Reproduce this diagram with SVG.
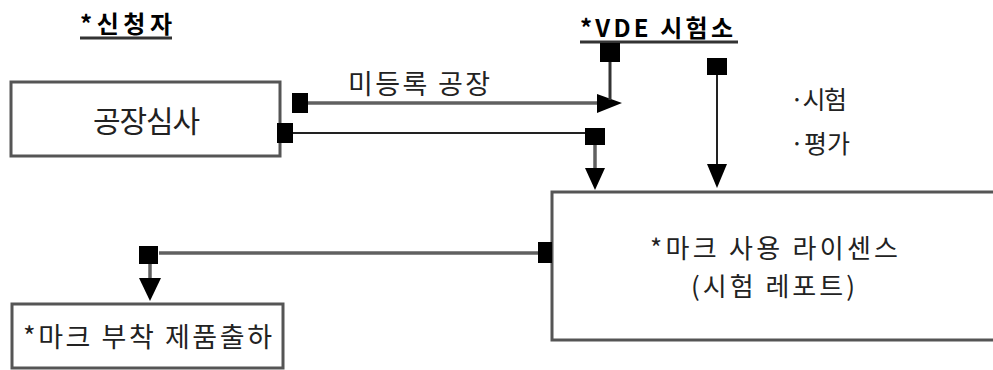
<svg xmlns="http://www.w3.org/2000/svg" width="993" height="370" viewBox="0 0 993 370">
<style>
.t{font-family:"Noto Sans CJK KR","Noto Sans",sans-serif;fill:#222;font-size:22px}
.b{font-weight:bold;fill:#000}
.box{fill:#fff;stroke:#555;stroke-width:3}
.ln{fill:none;stroke:#606060;stroke-width:3.5}
.thin{fill:none;stroke:#222;stroke-width:2}
.sq{fill:#000}
.ah{fill:#000}
.ul{stroke:#333;stroke-width:3}
</style>
<rect width="993" height="370" fill="#fff"/>
<g id="title-applicant">
<text class="t b" x="80" y="33" textLength="92" lengthAdjust="spacing" style="font-size:24px">*신청자</text>
<line class="ul" x1="80" y1="38" x2="172" y2="38"/>
</g>
<g id="title-vde">
<text class="t b" x="580" y="37" textLength="153" lengthAdjust="spacing" style="font-size:24px">*VDE 시험소</text>
<line class="ul" x1="580" y1="42" x2="738" y2="42"/>
</g>
<g id="node-factory-audit">
<rect class="box" x="11" y="82" width="269" height="74"/>
<text class="t" x="93" y="132" textLength="107" lengthAdjust="spacing" style="font-size:30px">공장심사</text>
</g>
<g id="node-license">
<rect class="box" x="552" y="192" width="460" height="148"/>
<text class="t" x="650" y="258" textLength="248" lengthAdjust="spacing" style="font-size:26px">*마크 사용 라이센스</text>
<text class="t" x="691" y="296" textLength="164" lengthAdjust="spacing" style="font-size:26px">(시험 레포트)</text>
</g>
<g id="node-shipment">
<rect class="box" x="12" y="304" width="271" height="64"/>
<text class="t" x="23" y="347" textLength="249" lengthAdjust="spacing" style="font-size:27px">*마크 부착 제품출하</text>
</g>
<g id="label-test-eval">
<text class="t" x="790" y="109" textLength="57" lengthAdjust="spacing" style="font-size:25px">·시험</text>
<text class="t" x="790" y="153" textLength="60" lengthAdjust="spacing" style="font-size:25px">·평가</text>
</g>
<g id="connectors">
<rect class="sq" x="292" y="93" width="16" height="20"/>
<line class="ln" x1="308" y1="103" x2="600" y2="103"/>
<polygon class="ah" points="597,94 622,103 597,113"/>
<text class="t" x="348" y="94" textLength="142" lengthAdjust="spacing" style="font-size:27px">미등록 공장</text>
<rect class="sq" x="600" y="43" width="20" height="19"/>
<line x1="610" y1="62" x2="610" y2="100" style="stroke:#333;stroke-width:3"/>
<rect class="sq" x="277" y="123" width="16" height="20"/>
<line class="thin" x1="293" y1="133" x2="586" y2="133"/>
<rect class="sq" x="585" y="128" width="20" height="17"/>
<line class="ln" x1="595" y1="145" x2="595" y2="170"/>
<polygon class="ah" points="585,168 605,168 595,190"/>
<rect class="sq" x="707" y="58" width="20" height="17"/>
<line class="thin" x1="717" y1="75" x2="717" y2="166"/>
<polygon class="ah" points="707,164 727,164 717,188"/>
<rect class="sq" x="538" y="242" width="14" height="21"/>
<line class="ln" x1="159" y1="253" x2="538" y2="253"/>
<rect class="sq" x="139" y="246" width="19" height="18"/>
<line class="ln" x1="150" y1="264" x2="150" y2="280"/>
<polygon class="ah" points="139,278 161,278 150,301"/>
</g>
</svg>
